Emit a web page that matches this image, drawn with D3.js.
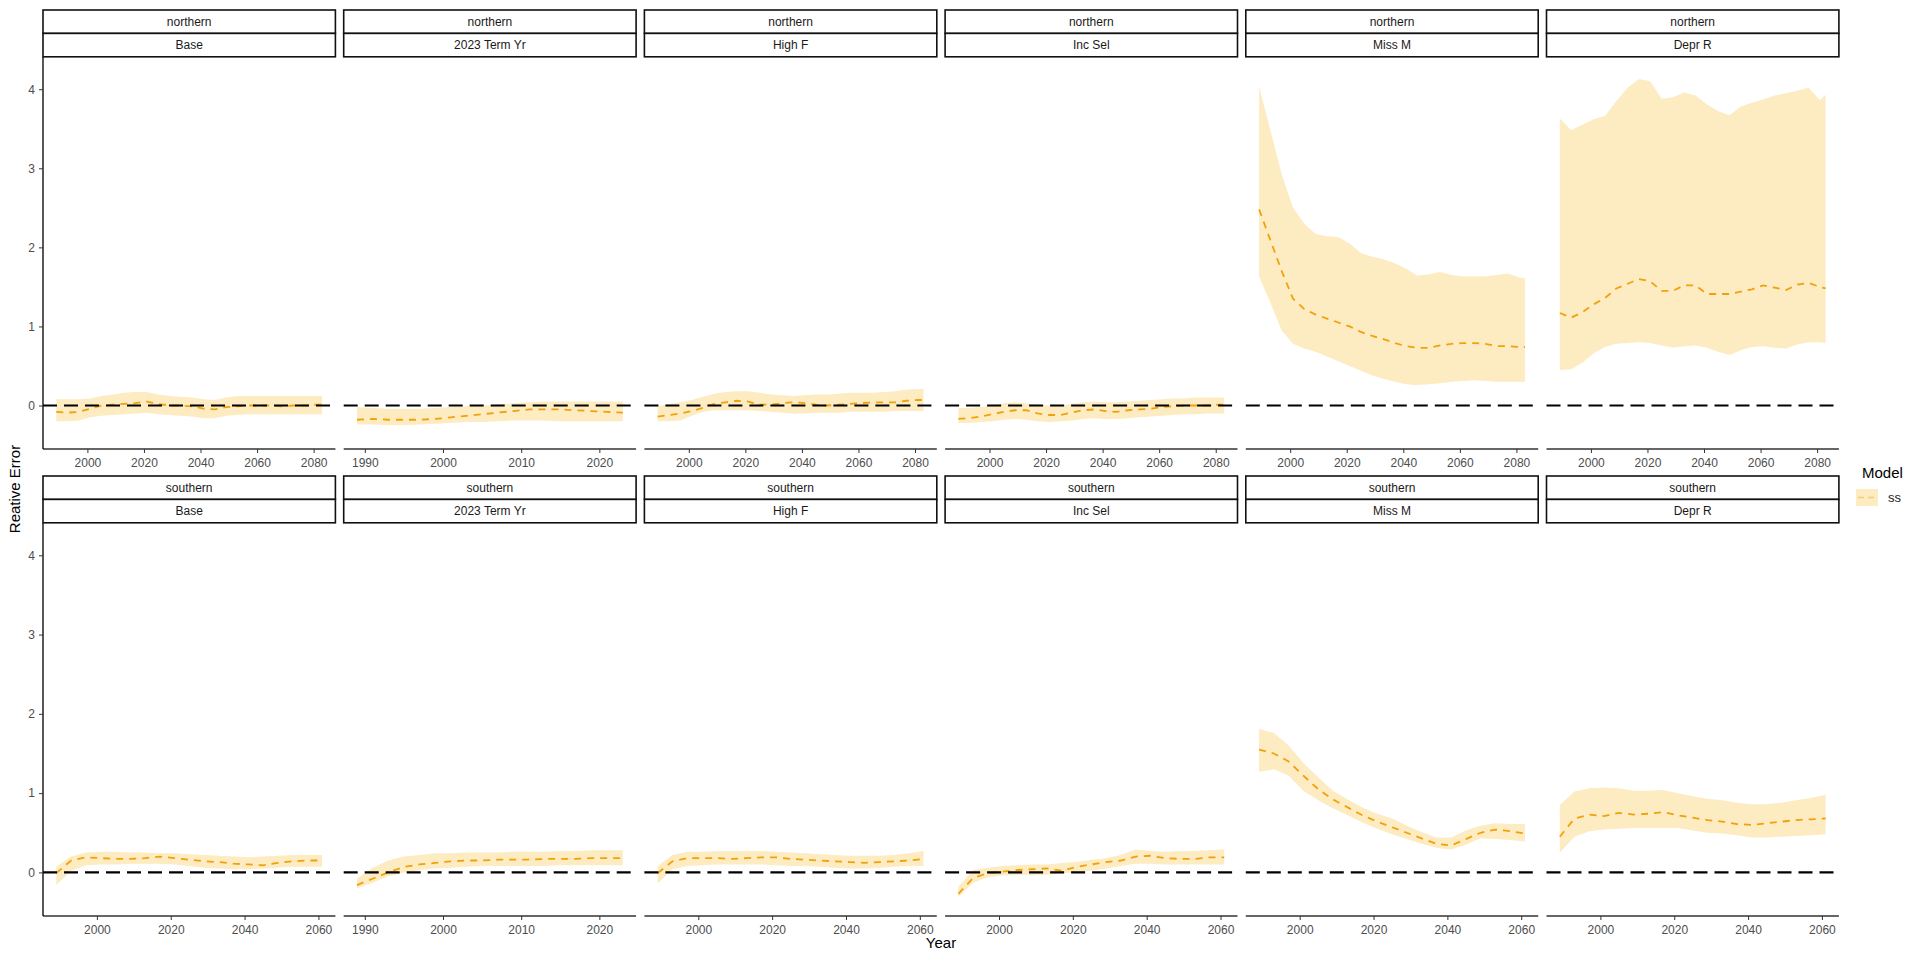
<!DOCTYPE html>
<html><head><meta charset="utf-8">
<script src="https://cdn.jsdelivr.net/npm/d3@7"></script>
<style>
body{margin:0;background:#fff}
svg text{font-family:"Liberation Sans",Arial,Helvetica,sans-serif}
</style>
</head><body>
<svg id="chart" width="1927" height="953"></svg>
<script>
// ---------------- data ----------------
const regions = ["northern", "southern"];
const scenarios = ["Base", "2023 Term Yr", "High F", "Inc Sel", "Miss M", "Depr R"];
const yTicks = [0, 1, 2, 3, 4];
const xTicksNorth = [2000, 2020, 2040, 2060, 2080];
const xTicksSouth = [2000, 2020, 2040, 2060];
const xTicksTerm = [1990, 2000, 2010, 2020];
const legendLabels = ["ss"];

const yearsNorth = [1989,1993,1997,2001,2005,2009,2013,2017,2021,2025,2029,2033,2037,2041,2045,2049,2053,2057,2061,2065,2069,2073,2077,2081,2083];
const yearsSouth = [1989,1993,1997,2001,2005,2009,2013,2017,2021,2025,2029,2033,2037,2041,2045,2049,2053,2057,2061];
const yearsTerm  = [1989,1991,1993,1995,1997,1999,2001,2003,2005,2007,2009,2011,2013,2015,2017,2019,2021,2023];

// northern
const nBaseMid = [-0.08,-0.09,-0.08,-0.04,0.00,0.01,0.02,0.03,0.05,0.02,0.00,0.00,-0.01,-0.04,-0.05,-0.02,-0.01,0.00,0.00,0.00,-0.01,0.00,0.00,0.01,0.01];
const nBaseHi  = [0.08,0.08,0.08,0.09,0.12,0.14,0.16,0.17,0.17,0.14,0.12,0.11,0.10,0.08,0.07,0.10,0.12,0.12,0.12,0.12,0.12,0.12,0.12,0.12,0.12];
const nBaseLo  = [-0.20,-0.20,-0.19,-0.15,-0.13,-0.12,-0.11,-0.10,-0.09,-0.11,-0.12,-0.13,-0.14,-0.16,-0.16,-0.13,-0.12,-0.11,-0.11,-0.11,-0.11,-0.11,-0.11,-0.11,-0.11];

const nTermMid = [-0.18,-0.17,-0.18,-0.18,-0.18,-0.17,-0.15,-0.13,-0.11,-0.09,-0.07,-0.05,-0.05,-0.05,-0.06,-0.07,-0.08,-0.09];
const nTermHi  = [-0.02,-0.03,-0.04,-0.04,-0.04,-0.03,-0.02,-0.01,0.00,0.01,0.03,0.04,0.05,0.05,0.05,0.05,0.05,0.05];
const nTermLo  = [-0.24,-0.24,-0.25,-0.25,-0.24,-0.23,-0.22,-0.21,-0.21,-0.20,-0.19,-0.19,-0.19,-0.20,-0.20,-0.20,-0.20,-0.20];

const nHighFMid = [-0.14,-0.12,-0.10,-0.07,-0.03,0.02,0.04,0.06,0.05,0.01,0.01,0.03,0.04,0.03,0.01,0.00,0.01,0.02,0.03,0.04,0.04,0.04,0.06,0.07,0.07];
const nHighFHi  = [-0.01,0.02,0.04,0.07,0.11,0.15,0.17,0.18,0.18,0.16,0.14,0.13,0.12,0.13,0.14,0.14,0.15,0.16,0.16,0.16,0.17,0.18,0.20,0.21,0.21];
const nHighFLo  = [-0.20,-0.20,-0.19,-0.13,-0.08,-0.06,-0.06,-0.06,-0.06,-0.07,-0.08,-0.09,-0.10,-0.10,-0.09,-0.09,-0.09,-0.08,-0.08,-0.08,-0.08,-0.07,-0.07,-0.07,-0.07];

const nIncSelMid = [-0.17,-0.16,-0.14,-0.11,-0.08,-0.06,-0.06,-0.10,-0.12,-0.12,-0.09,-0.06,-0.05,-0.07,-0.08,-0.06,-0.05,-0.04,-0.02,-0.01,0.00,0.00,0.00,0.01,0.01];
const nIncSelHi  = [-0.03,-0.03,-0.02,0.00,0.03,0.04,0.03,0.01,0.00,0.00,0.02,0.04,0.05,0.04,0.04,0.05,0.06,0.07,0.08,0.09,0.09,0.10,0.10,0.10,0.10];
const nIncSelLo  = [-0.22,-0.22,-0.21,-0.20,-0.18,-0.17,-0.18,-0.20,-0.21,-0.20,-0.19,-0.17,-0.16,-0.17,-0.17,-0.16,-0.15,-0.14,-0.13,-0.12,-0.11,-0.11,-0.10,-0.10,-0.10];

const nMissMMid = [2.48,2.09,1.70,1.35,1.22,1.15,1.10,1.05,1.00,0.93,0.88,0.84,0.79,0.75,0.73,0.73,0.76,0.78,0.79,0.79,0.78,0.75,0.75,0.74,0.74];
const nMissMHi  = [4.03,3.48,2.92,2.50,2.30,2.17,2.14,2.13,2.05,1.93,1.88,1.85,1.80,1.73,1.64,1.66,1.69,1.65,1.63,1.63,1.63,1.65,1.67,1.62,1.61];
const nMissMLo  = [1.63,1.30,0.95,0.78,0.72,0.68,0.62,0.56,0.50,0.44,0.38,0.34,0.30,0.27,0.26,0.27,0.28,0.30,0.31,0.32,0.31,0.30,0.30,0.30,0.30];

const nDeprRMid = [1.17,1.11,1.18,1.28,1.36,1.48,1.54,1.60,1.57,1.45,1.45,1.52,1.52,1.41,1.41,1.41,1.44,1.47,1.52,1.49,1.46,1.53,1.55,1.50,1.48];
const nDeprRHi  = [3.63,3.48,3.55,3.62,3.66,3.85,4.02,4.13,4.10,3.88,3.90,3.96,3.92,3.81,3.72,3.67,3.78,3.83,3.87,3.92,3.95,3.98,4.02,3.86,3.93];
const nDeprRLo  = [0.45,0.46,0.54,0.66,0.74,0.78,0.79,0.80,0.79,0.76,0.73,0.75,0.76,0.73,0.68,0.64,0.70,0.74,0.75,0.73,0.72,0.77,0.80,0.80,0.79];

// southern
const sBaseMid = [-0.01,0.15,0.19,0.18,0.17,0.17,0.18,0.20,0.18,0.16,0.14,0.13,0.11,0.10,0.09,0.12,0.14,0.15,0.15];
const sBaseHi  = [0.07,0.20,0.25,0.26,0.26,0.25,0.25,0.24,0.24,0.23,0.22,0.21,0.20,0.19,0.20,0.21,0.22,0.22,0.22];
const sBaseLo  = [-0.16,0.02,0.09,0.10,0.10,0.11,0.11,0.11,0.10,0.08,0.06,0.05,0.04,0.04,0.05,0.06,0.07,0.07,0.07];

const sTermMid = [-0.16,-0.08,0.00,0.07,0.10,0.12,0.14,0.15,0.15,0.16,0.16,0.16,0.17,0.17,0.17,0.18,0.18,0.18];
const sTermHi  = [-0.08,0.06,0.15,0.20,0.22,0.24,0.24,0.25,0.25,0.25,0.26,0.26,0.26,0.27,0.27,0.28,0.28,0.28];
const sTermLo  = [-0.20,-0.13,-0.05,0.00,0.03,0.05,0.06,0.07,0.08,0.08,0.08,0.08,0.08,0.09,0.09,0.09,0.09,0.09];

const sHighFMid = [-0.01,0.14,0.18,0.18,0.18,0.17,0.18,0.19,0.19,0.17,0.16,0.15,0.14,0.13,0.12,0.13,0.14,0.15,0.17];
const sHighFHi  = [0.08,0.22,0.26,0.26,0.27,0.27,0.27,0.27,0.26,0.25,0.24,0.23,0.22,0.21,0.21,0.21,0.22,0.24,0.27];
const sHighFLo  = [-0.14,0.04,0.08,0.09,0.10,0.10,0.10,0.10,0.09,0.08,0.08,0.07,0.06,0.05,0.05,0.06,0.07,0.08,0.08];

const sIncSelMid = [-0.27,-0.07,-0.01,0.01,0.03,0.04,0.05,0.02,0.07,0.10,0.13,0.15,0.20,0.21,0.18,0.17,0.17,0.19,0.19];
const sIncSelHi  = [-0.18,0.03,0.06,0.08,0.09,0.10,0.10,0.12,0.13,0.16,0.18,0.22,0.29,0.27,0.26,0.27,0.27,0.28,0.29];
const sIncSelLo  = [-0.31,-0.13,-0.06,-0.04,-0.03,-0.03,-0.03,-0.01,0.00,0.02,0.05,0.08,0.11,0.11,0.10,0.10,0.10,0.10,0.10];

const sMissMMid = [1.55,1.50,1.40,1.22,1.05,0.92,0.82,0.72,0.64,0.57,0.50,0.43,0.36,0.34,0.42,0.50,0.54,0.52,0.49];
const sMissMHi  = [1.81,1.76,1.60,1.38,1.20,1.03,0.92,0.82,0.74,0.68,0.59,0.51,0.44,0.44,0.53,0.59,0.62,0.61,0.61];
const sMissMLo  = [1.27,1.30,1.22,1.03,0.91,0.81,0.72,0.63,0.55,0.48,0.42,0.36,0.31,0.29,0.35,0.43,0.42,0.41,0.39];

const sDeprRMid = [0.45,0.68,0.73,0.71,0.75,0.73,0.74,0.76,0.72,0.69,0.66,0.64,0.61,0.60,0.62,0.64,0.66,0.67,0.68];
const sDeprRHi  = [0.85,1.02,1.06,1.07,1.06,1.03,1.03,1.04,1.00,0.96,0.93,0.91,0.88,0.86,0.86,0.88,0.91,0.94,0.98];
const sDeprRLo  = [0.25,0.45,0.52,0.54,0.55,0.56,0.56,0.56,0.56,0.53,0.50,0.49,0.47,0.44,0.44,0.45,0.46,0.47,0.48];

// ---------------- panel table built from the arrays ----------------
const panelData = [
  [ // northern
    {years: yearsNorth, mid: nBaseMid, hi: nBaseHi, lo: nBaseLo, ticks: xTicksNorth},
    {years: yearsTerm,  mid: nTermMid, hi: nTermHi, lo: nTermLo, ticks: xTicksTerm},
    {years: yearsNorth, mid: nHighFMid, hi: nHighFHi, lo: nHighFLo, ticks: xTicksNorth},
    {years: yearsNorth, mid: nIncSelMid, hi: nIncSelHi, lo: nIncSelLo, ticks: xTicksNorth},
    {years: yearsNorth, mid: nMissMMid, hi: nMissMHi, lo: nMissMLo, ticks: xTicksNorth},
    {years: yearsNorth, mid: nDeprRMid, hi: nDeprRHi, lo: nDeprRLo, ticks: xTicksNorth}
  ],
  [ // southern
    {years: yearsSouth, mid: sBaseMid, hi: sBaseHi, lo: sBaseLo, ticks: xTicksSouth},
    {years: yearsTerm,  mid: sTermMid, hi: sTermHi, lo: sTermLo, ticks: xTicksTerm},
    {years: yearsSouth, mid: sHighFMid, hi: sHighFHi, lo: sHighFLo, ticks: xTicksSouth},
    {years: yearsSouth, mid: sIncSelMid, hi: sIncSelHi, lo: sIncSelLo, ticks: xTicksSouth},
    {years: yearsSouth, mid: sMissMMid, hi: sMissMHi, lo: sMissMLo, ticks: xTicksSouth},
    {years: yearsSouth, mid: sDeprRMid, hi: sDeprRHi, lo: sDeprRLo, ticks: xTicksSouth}
  ]
];

// ---------------- layout & style ----------------
const ribbonFill = "#FDEBC2";
const lineColor = "#F2A10A";
const panelLeft0 = 43, panelW = 292.4, panelGap = 8.3;
const stripTops = [10, 476], stripH = 23.4;
const panelBottoms = [449, 916];
const yDomain = [-0.55, 4.41];

const svg = d3.select("#chart");
svg.append("rect").attr("width", 1927).attr("height", 953).attr("fill", "#fff");

regions.forEach((region, r) => {
  const top = stripTops[r] + 2 * stripH;
  const bottom = panelBottoms[r];
  const y = d3.scaleLinear().domain(yDomain).range([bottom, top]);

  scenarios.forEach((scen, c) => {
    const d = panelData[r][c];
    const left = panelLeft0 + c * (panelW + panelGap);
    const ext = d3.extent(d.years);
    const pad = (ext[1] - ext[0]) * 0.05;
    const x = d3.scaleLinear().domain([ext[0] - pad, ext[1] + pad]).range([left, left + panelW]);

    const g = svg.append("g");
    const pts = d.years.map((yr, i) => ({yr, mid: d.mid[i], lo: d.lo[i], hi: d.hi[i]}));

    // ribbon
    g.append("path").datum(pts)
      .attr("d", d3.area().x(p => x(p.yr)).y0(p => y(p.lo)).y1(p => y(p.hi)))
      .attr("fill", ribbonFill).attr("stroke", "none");
    // median line
    g.append("path").datum(pts)
      .attr("d", d3.line().x(p => x(p.yr)).y(p => y(p.mid)))
      .attr("fill", "none").attr("stroke", lineColor)
      .attr("stroke-width", 1.8).attr("stroke-dasharray", "7 6");
    // zero reference line
    g.append("line")
      .attr("x1", left).attr("x2", left + panelW)
      .attr("y1", y(0)).attr("y2", y(0))
      .attr("stroke", "#000").attr("stroke-width", 2.2).attr("stroke-dasharray", "14 7");

    // x axis
    const xa = g.append("g").attr("transform", `translate(0,${bottom})`)
      .call(d3.axisBottom(x).tickValues(d.ticks).tickFormat(d3.format("d")).tickSize(4).tickSizeOuter(0));
    xa.select(".domain").attr("stroke", "#333").attr("stroke-width", 1.4)
      .attr("d", `M${left},0H${left + panelW}`);
    xa.selectAll(".tick line").attr("stroke", "#333").attr("stroke-width", 1);
    xa.selectAll(".tick text").attr("fill", "#4D4D4D").attr("font-size", 12)
      .attr("font-family", "Liberation Sans, Arial, sans-serif").attr("dy", "0.9em");

    // y axis on first column
    if (c === 0) {
      const ya = g.append("g").attr("transform", `translate(${left},0)`)
        .call(d3.axisLeft(y).tickValues(yTicks).tickFormat(d3.format("d")).tickSize(4).tickSizeOuter(0));
      ya.select(".domain").attr("stroke", "#111").attr("stroke-width", 1.4)
        .attr("d", `M0,${bottom}V${top}`);
      ya.selectAll(".tick line").attr("stroke", "#333");
      ya.selectAll(".tick text").attr("fill", "#4D4D4D").attr("font-size", 12)
        .attr("font-family", "Liberation Sans, Arial, sans-serif").attr("x", -8);
    }

    // strips
    [region, scen].forEach((lab, k) => {
      const sy = stripTops[r] + k * stripH;
      g.append("rect").attr("x", left).attr("y", sy).attr("width", panelW).attr("height", stripH)
        .attr("fill", "#fff").attr("stroke", "#111").attr("stroke-width", 1.6);
      g.append("text").attr("x", left + panelW / 2).attr("y", sy + stripH / 2)
        .attr("text-anchor", "middle").attr("dominant-baseline", "central")
        .attr("font-size", 12).attr("fill", "#1A1A1A").text(lab);
    });
  });
});

// axis titles
svg.append("text").attr("x", 941).attr("y", 948).attr("text-anchor", "middle")
  .attr("font-size", 15).attr("fill", "#000").text("Year");
svg.append("text").attr("transform", "translate(20,489) rotate(-90)")
  .attr("text-anchor", "middle").attr("font-size", 15).attr("fill", "#000").text("Reative Error");

// legend
const lg = svg.append("g");
lg.append("text").attr("x", 1862).attr("y", 478).attr("font-size", 15).attr("fill", "#000").text("Model");
legendLabels.forEach((lab, i) => {
  const ky = 489 + i * 22;
  lg.append("rect").attr("x", 1856).attr("y", ky).attr("width", 22).attr("height", 17).attr("fill", ribbonFill);
  lg.append("line").attr("x1", 1858).attr("x2", 1876).attr("y1", ky + 8.5).attr("y2", ky + 8.5)
    .attr("stroke", lineColor).attr("stroke-width", 1.6).attr("stroke-dasharray", "6 4").attr("opacity", 0.4);
  lg.append("text").attr("x", 1888).attr("y", ky + 8.5).attr("dominant-baseline", "central")
    .attr("font-size", 13).attr("fill", "#222").text(lab);
});
</script>
</body></html>
